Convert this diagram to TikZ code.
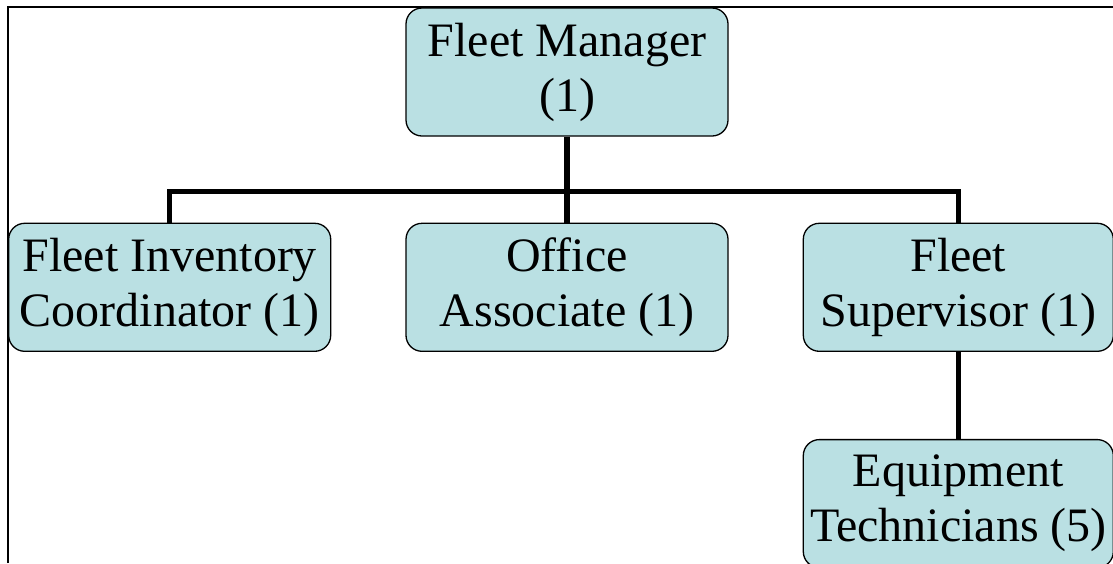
\documentclass[tikz,border=0pt]{standalone}
\usepackage{fontspec}
\setmainfont{Liberation Serif}
\usetikzlibrary{positioning}
\definecolor{boxfill}{RGB}{186,224,227}

\begin{document}
\begin{tikzpicture}[x=1pt, y=1pt,
    rolebox/.style = {draw=black, line width=1.3pt, fill=boxfill, rounded corners=16pt,
      minimum width=322pt, minimum height=128pt, inner sep=0pt, align=center,
      font=\fontsize{48}{55}\selectfont},
    narrowbox/.style = {rolebox, minimum width=310pt},
    link/.style = {line width=5.5pt}]
  \useasboundingbox (0,0) rectangle (1113,-563);
  % frame
  \draw[line width=2.2pt] (8,-563) -- (8,-7) -- (1113,-7);
  % boxes
  \node[rolebox] (mgr) at (567,-72) {Fleet Manager\\(1)};
  \node[rolebox] (office) [below=86pt of mgr] {Office\\Associate (1)};
  \node[rolebox] (inv) [left=74pt of office] {Fleet Inventory\\Coordinator (1)};
  \node[narrowbox] (sup) [right=74pt of office] {Fleet\\Supervisor (1)};
  \node[narrowbox] (equip) [below=87pt of sup] {Equipment\\Technicians (5)};
  % links
  \coordinate[below=55pt of mgr.south] (bus);
  \draw[link] (mgr.south) -- (office.north);
  \draw[link] (inv.north) |- (bus) -| (sup.north);
  \draw[link] (sup.south) -- (equip.north);
\end{tikzpicture}
\end{document}
